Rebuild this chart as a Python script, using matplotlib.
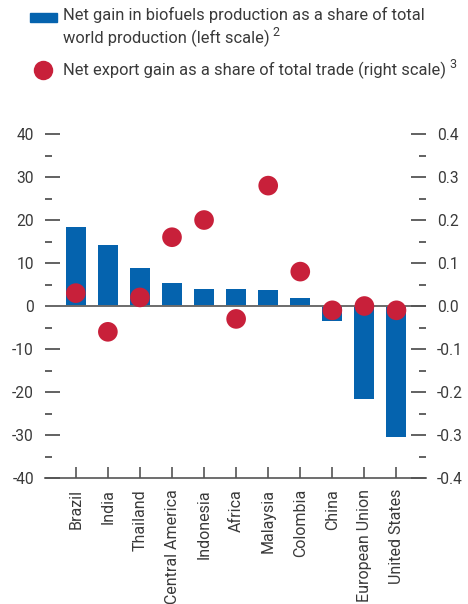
import matplotlib
matplotlib.use("Agg")
import matplotlib.pyplot as plt
from matplotlib.patches import Rectangle
from matplotlib.lines import Line2D
from matplotlib.ticker import MultipleLocator, FormatStrFormatter

plt.rcParams['font.family'] = ['Roboto', 'DejaVu Sans']
plt.rcParams['axes.unicode_minus'] = False

regions = ["Brazil", "India", "Thailand", "Central America", "Indonesia", "Africa",
           "Malaysia", "Colombia", "China", "European Union", "United States"]
production_gain = [18.4, 14.2, 8.9, 5.35, 3.95, 3.95, 3.7, 1.85, -3.5, -21.6, -30.4]
export_gain = [0.03, -0.06, 0.02, 0.16, 0.20, -0.03, 0.28, 0.08, -0.01, 0.0, -0.01]

BLUE = "#0563AE"
RED = "#C8203A"
TXT = "#3a3a3a"
TICK = "#555555"

fig = plt.figure(figsize=(4.68, 6.04), dpi=100)
ax = fig.add_axes([0.0962, 0.2086, 0.814, 0.5695])
ax2 = ax.twinx()

x = list(range(len(regions)))
ax.bar(x, production_gain, width=0.625, color=BLUE, zorder=2)
ax.axhline(0, color="#6b6b6b", lw=1.4, zorder=3)
ax2.scatter(x, export_gain, s=200, color=RED, edgecolors="none", zorder=4)

ax.set_xlim(-0.96, 10.92)
ax.set_ylim(-40, 40)
ax2.set_ylim(-0.4, 0.4)

for a in (ax, ax2):
    for side in ("left", "right", "top"):
        a.spines[side].set_visible(False)
ax.spines["bottom"].set_visible(True)
ax.spines["bottom"].set_color("#555555")
ax.spines["bottom"].set_linewidth(1.2)
ax2.spines["bottom"].set_visible(False)

ax.yaxis.set_major_locator(MultipleLocator(10))
ax.yaxis.set_minor_locator(MultipleLocator(5))
ax.yaxis.set_major_formatter(FormatStrFormatter("%d"))
ax2.yaxis.set_major_locator(MultipleLocator(0.1))
ax2.yaxis.set_minor_locator(MultipleLocator(0.05))
ax2.yaxis.set_major_formatter(FormatStrFormatter("%.1f"))

ax.tick_params(axis="y", which="major", direction="in", length=11, width=1.3,
               color=TICK, labelsize=11.2, labelcolor=TXT, pad=8)
ax.tick_params(axis="y", which="minor", direction="in", length=5, width=1.3, color=TICK)
ax2.tick_params(axis="y", which="major", direction="in", length=11, width=1.3,
                color=TICK, labelsize=11.2, labelcolor=TXT, pad=8)
ax2.tick_params(axis="y", which="minor", direction="in", length=5, width=1.3, color=TICK)

ax.set_xticks(x)
ax.set_xticklabels(regions, rotation=90, fontsize=11.5, color=TXT)
ax.tick_params(axis="x", direction="in", length=8, width=1.2, color=TICK, pad=8)

ax.set_zorder(ax2.get_zorder() - 1)
ax.patch.set_visible(False)

# legend
fig.patches.append(Rectangle((30 / 468, 1 - 22 / 604), 27 / 468, 9 / 604,
                             transform=fig.transFigure, color=BLUE))
t1 = fig.text(63 / 468, 1 - 15 / 604, "Net gain in biofuels production as a share of total",
              fontsize=11.9, color=TXT, va="center", ha="left")
t2 = fig.text(63 / 468, 1 - 38 / 604, "world production (left scale)",
              fontsize=11.9, color=TXT, va="center", ha="left")
fig.lines.append(Line2D([43 / 468], [1 - 70 / 604], transform=fig.transFigure,
                        marker="o", markersize=14, color=RED, markeredgewidth=0))
t3 = fig.text(63 / 468, 1 - 70 / 604, "Net export gain as a share of total trade (right scale)",
              fontsize=11.9, color=TXT, va="center", ha="left")

fig.canvas.draw()
r = fig.canvas.get_renderer()
for t, s in ((t2, "2"), (t3, "3")):
    bb = t.get_window_extent(r).transformed(fig.transFigure.inverted())
    fig.text(bb.x1 + 3 / 468, bb.y1 - 3 / 604, s, fontsize=9, color=TXT,
             va="center", ha="left")

fig.savefig("out.png", dpi=100)
